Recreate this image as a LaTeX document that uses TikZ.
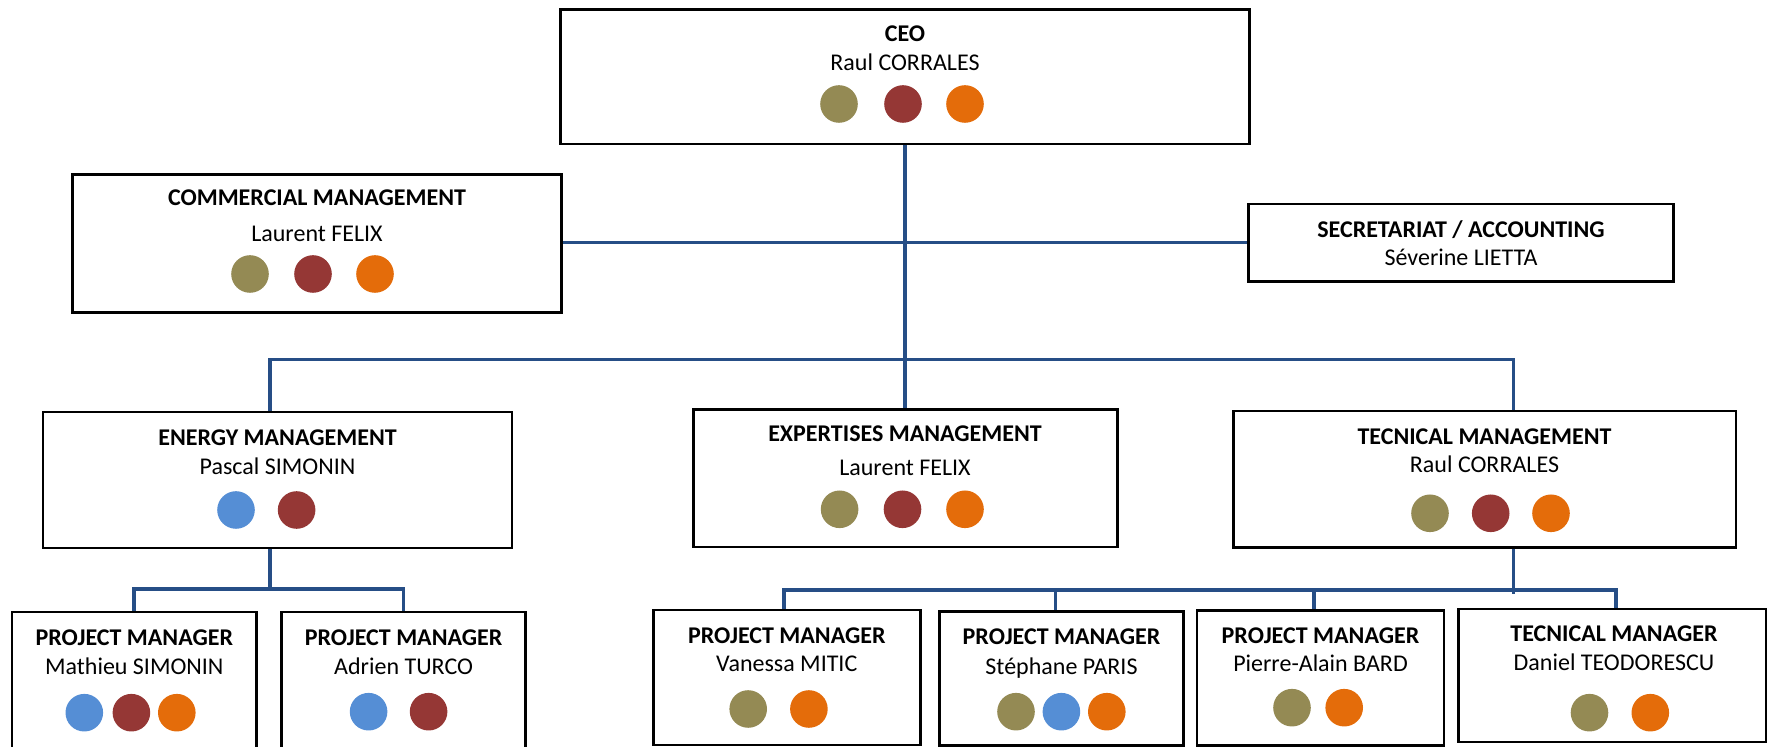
\documentclass[tikz,border=0pt]{standalone}
\usepackage{fontspec}
\setmainfont{Carlito}
\usetikzlibrary{fit}
\definecolor{cOlive}{RGB}{148,138,84}
\definecolor{cRed}{RGB}{149,55,53}
\definecolor{cOrange}{RGB}{228,108,10}
\definecolor{cBlue}{RGB}{85,142,213}
\definecolor{lineBlue}{RGB}{38,78,134}
\begin{document}
\begin{tikzpicture}[x=0.5pt,y=-0.5pt,
  box/.style={draw=black, line width=1.3pt, inner sep=0pt},
  ttl/.style={font=\fontsize{12}{14}\selectfont\bfseries, inner sep=0pt, text height=7.7pt, text depth=0pt},
  nm/.style={font=\fontsize{12}{14}\selectfont, inner sep=0pt, text height=7.7pt, text depth=0pt},
  pdot/.style={circle, minimum size=18.8pt, inner sep=0pt, draw=none},
  conn/.style={draw=lineBlue, line width=1.8pt}]
\useasboundingbox (0,0) rectangle (1769,747);

% ---------- boxes ----------
\node[box, fit={(560.7,9.3) (1249.4,144)}] (ceo) {};
\node[box, fit={(72.7,174.3) (561.7,312.7)}] (comm) {};
\node[box, fit={(1248.7,204) (1673.4,281.7)}] (secr) {};
\node[box, fit={(43,412) (512,548)}] (energy) {};
\node[box, fit={(693.2,409.3) (1117.2,547)}] (expert) {};
\node[box, fit={(1233.3,411) (1735.8,547.3)}] (tech) {};
\node[box, fit={(12,612) (256.4,770)}] (math) {};
\node[box, fit={(281.4,612) (525.7,770)}] (adr) {};
\node[box, fit={(653.2,610) (920.4,745)}] (van) {};
\node[box, fit={(939.3,611.7) (1183.6,745.5)}] (steph) {};
\node[box, fit={(1196.9,610.7) (1444.1,745.5)}] (pierre) {};
\node[box, fit={(1458.7,609) (1766,742)}] (dan) {};

% ---------- texts ----------
\node[ttl] (ceoT) at (905,34) {CEO};
\node[nm]  (ceoN) at (905,63) {Raul CORRALES};
\node[ttl] (commT) at (317,198) {COMMERCIAL MANAGEMENT};
\node[nm]  (commN) at (317,234) {Laurent FELIX};
\node[ttl] (secrT) at (1461,230) {SECRETARIAT / ACCOUNTING};
\node[nm]  (secrN) at (1461,258) {Séverine LIETTA};
\node[ttl] (energyT) at (277.5,438) {ENERGY MANAGEMENT};
\node[nm]  (energyN) at (277.5,466.7) {Pascal SIMONIN};
\node[ttl] (expertT) at (905,434) {EXPERTISES MANAGEMENT};
\node[nm]  (expertN) at (905,468.3) {Laurent FELIX};
\node[ttl] (techT) at (1484.5,436.7) {TECNICAL MANAGEMENT};
\node[nm]  (techN) at (1484.5,465) {Raul CORRALES};
\node[ttl] (mathT) at (134.3,638.3) {PROJECT MANAGER};
\node[nm]  (mathN) at (134.3,666.7) {Mathieu SIMONIN};
\node[ttl] (adrT) at (403.6,638.3) {PROJECT MANAGER};
\node[nm]  (adrN) at (403.6,666.7) {Adrien TURCO};
\node[ttl] (vanT) at (786.8,635.7) {PROJECT MANAGER};
\node[nm]  (vanN) at (786.8,664) {Vanessa MITIC};
\node[ttl] (stephT) at (1061.5,636.7) {PROJECT MANAGER};
\node[nm]  (stephN) at (1061.5,666.7) {Stéphane PARIS};
\node[ttl] (pierreT) at (1320.5,635.7) {PROJECT MANAGER};
\node[nm]  (pierreN) at (1320.5,664) {Pierre-Alain BARD};
\node[ttl] (danT) at (1614,634.3) {TECNICAL MANAGER};
\node[nm]  (danN) at (1614,662.7) {Daniel TEODORESCU};

% ---------- dots ----------
\node[pdot, fill=cOlive]  (ceoD1) at (839,104) {};
\node[pdot, fill=cRed]    (ceoD2) at (903,104) {};
\node[pdot, fill=cOrange] (ceoD3) at (965,104) {};
\node[pdot, fill=cOlive]  (commD1) at (250,274) {};
\node[pdot, fill=cRed]    (commD2) at (313,274) {};
\node[pdot, fill=cOrange] (commD3) at (375,274) {};
\node[pdot, fill=cBlue]   (energyD1) at (236,510) {};
\node[pdot, fill=cRed]    (energyD2) at (296.6,510) {};
\node[pdot, fill=cOlive]  (expertD1) at (839.6,509.3) {};
\node[pdot, fill=cRed]    (expertD2) at (902.5,509.3) {};
\node[pdot, fill=cOrange] (expertD3) at (965,509.3) {};
\node[pdot, fill=cOlive]  (techD1) at (1430,513.3) {};
\node[pdot, fill=cRed]    (techD2) at (1490.7,513.3) {};
\node[pdot, fill=cOrange] (techD3) at (1551,513.3) {};
\node[pdot, fill=cBlue]   (mathD1) at (84.3,712.7) {};
\node[pdot, fill=cRed]    (mathD2) at (131.4,712.7) {};
\node[pdot, fill=cOrange] (mathD3) at (176.8,712.7) {};
\node[pdot, fill=cBlue]   (adrD1) at (368.6,711.7) {};
\node[pdot, fill=cRed]    (adrD2) at (428.6,711.7) {};
\node[pdot, fill=cOlive]  (vanD1) at (748.2,709) {};
\node[pdot, fill=cOrange] (vanD2) at (808.9,709) {};
\node[pdot, fill=cOlive]  (stephD1) at (1016,711.7) {};
\node[pdot, fill=cBlue]   (stephD2) at (1061.4,711.7) {};
\node[pdot, fill=cOrange] (stephD3) at (1106.8,711.7) {};
\node[pdot, fill=cOlive]  (pierreD1) at (1292,707.7) {};
\node[pdot, fill=cOrange] (pierreD2) at (1344.2,707.7) {};
\node[pdot, fill=cOlive]  (danD1) at (1589.5,712.7) {};
\node[pdot, fill=cOrange] (danD2) at (1650.3,712.7) {};

% ---------- connector helper coordinates ----------
\coordinate (hl) at (905,242.5);
\coordinate (b1) at (905,359.5);
\coordinate (ex) at (270,0);
\coordinate (tx) at (1513.4,0);
\coordinate (b3) at (270,589.3);
\coordinate (b2) at (1200,590);
\coordinate (vx) at (783.9,0);
\coordinate (sx) at (1055.4,0);
\coordinate (px) at (1314.1,0);
\coordinate (dx) at (1615.8,0);

% ---------- connectors ----------
\draw[conn] (ceo.south) -- (ceo.south |- expert.north);
\draw[conn] (comm.east |- hl) -- (secr.west |- hl);
\draw[conn] (ex |- energy.north) |- (b1) -| (tx |- tech.north);
\draw[conn] (ex |- energy.south) -- (b3);
\draw[conn] (math.north) |- (b3) -| (adr.north);
\draw[conn] (tx |- tech.south) -- ([yshift=-2pt]tx |- b2);
\draw[conn] (vx |- van.north) |- (b2) -| (dx |- dan.north);
\draw[conn] (sx |- b2) -- (sx |- steph.north);
\draw[conn] (px |- b2) -- (px |- pierre.north);
\end{tikzpicture}
\end{document}
